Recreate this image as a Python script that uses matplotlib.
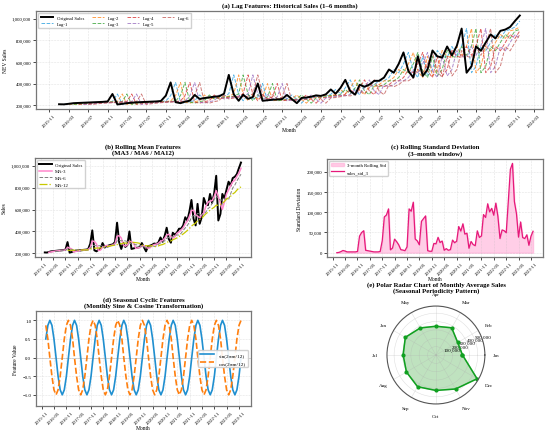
import numpy as np
import pandas as pd
import matplotlib
matplotlib.use("Agg")
import matplotlib.pyplot as plt
import matplotlib.dates as mdates
from matplotlib.ticker import FuncFormatter

plt.rcParams['font.family'] = ['Liberation Serif', 'DejaVu Serif']

# === Monthly NEV sales, 2016-01 .. 2023-12 ===
start_month = "2016-01-01"
sales = [
    208000, 207000, 212000, 218000, 220000, 222000, 224000, 226000, 228000, 230000, 234000, 303000,
    206000, 212000, 218000, 222000, 226000, 228000, 230000, 232000, 234000, 238000, 288000, 410000,
    227000, 218000, 232000, 241000, 294000, 257000, 265000, 272000, 278000, 282000, 305000, 480000,
    300000, 240000, 297000, 258000, 275000, 400000, 240000, 245000, 250000, 252000, 257000, 294000,
    255000, 218000, 266000, 270000, 278000, 290000, 285000, 300000, 345000, 305000, 360000, 434000,
    330000, 297000, 388000, 370000, 390000, 425000, 425000, 455000, 530000, 500000, 582000, 688000,
    515000, 455000, 652000, 470000, 530000, 706000, 652000, 640000, 743000, 661000, 750000, 909000,
    500000, 560000, 743000, 703000, 780000, 855000, 818000, 888000, 900000, 924000, 980000, 1030000,
]

lag_steps = [1, 2, 3, 4, 5, 6]
lag_colors = ["#1f9bde", "#ff7f0e", "#2ca02c", "#d62728", "#9467bd", "#c0504d"]
ma_windows = [3, 6, 12]
ma_labels = ["MA-3", "MA-6", "MA-12"]
month_names = ["Jan", "Feb", "Mar", "Apr", "May", "Jun",
               "Jul", "Aug", "Sep", "Oct", "Nov", "Dec"]
# sin / cos of 2*pi*m/12 for m = 1..12
month_sin = [0.5, 0.866, 1.0, 0.866, 0.5, 0.0, -0.5, -0.866, -1.0, -0.866, -0.5, 0.0]
month_cos = [0.866, 0.5, 0.0, -0.5, -0.866, -1.0, -0.866, -0.5, 0.0, 0.5, 0.866, 1.0]

df = pd.DataFrame({"sales": sales},
                  index=pd.date_range(start_month, periods=len(sales), freq="MS"))
df["month"] = df.index.month
for k in lag_steps:
    df[f"lag_{k}"] = df["sales"].shift(k)
for w in ma_windows:
    df[f"ma_{w}"] = df["sales"].rolling(w).mean()
df["sales_std_3"] = df["sales"].rolling(3, min_periods=1).std().fillna(0)
df["sin_m"] = [month_sin[m - 1] for m in df["month"]]
df["cos_m"] = [month_cos[m - 1] for m in df["month"]]
monthly_avg = df.groupby("month")["sales"].mean()

# === Style ===
TITLE = {"fontsize": 4.9, "fontweight": "bold"}
LABEL = 4.0
TICK = 3.5
LEG = 3.4
comma_fmt = FuncFormatter(lambda v, p: f"{v:,.0f}")


def style_axes(ax, ticks):
    ax.set_xticks(ticks)
    ax.xaxis.set_major_formatter(mdates.DateFormatter("%Y-%m"))
    ax.tick_params(axis="x", labelsize=TICK, rotation=45, length=2, width=0.5, pad=1)
    ax.tick_params(axis="y", labelsize=TICK, length=2, width=0.5, pad=1.5)
    ax.grid(True, linestyle="--", linewidth=0.4, alpha=0.35)
    for sp in ax.spines.values():
        sp.set_color("#777777")
        sp.set_linewidth(0.9)


ticks_4 = pd.date_range("2015-11-01", "2024-03-01", freq="4MS")
ticks_6 = pd.date_range("2015-11-01", "2023-11-01", freq="6MS")

fig = plt.figure(figsize=(5.5, 4.31), dpi=100)

# === (a) Lag features ===
ax_a = fig.add_axes([0.0655, 0.745, 0.9215, 0.227])
ax_a.plot(df.index, df["sales"], color="black", lw=1.4, label="Original Sales", zorder=5)
for k, c in zip(lag_steps, lag_colors):
    ax_a.plot(df.index, df[f"lag_{k}"], color=c, lw=0.7, ls="--", alpha=0.75, label=f"Lag-{k}")
ax_a.set_title("(a) Lag Features: Historical Sales (1–6 months)", fontdict=TITLE, pad=3)
ax_a.set_xlabel("Month", fontsize=LABEL, labelpad=0)
ax_a.set_ylabel("NEV Sales", fontsize=LABEL, labelpad=3)
ax_a.yaxis.set_major_formatter(comma_fmt)
style_axes(ax_a, ticks_4)
ax_a.legend(loc="upper left", ncol=4, fontsize=LEG, handlelength=2.6, columnspacing=1.6,
            framealpha=0.9, borderpad=0.5, labelspacing=0.35)

# === (b) Rolling means ===
ax_b = fig.add_axes([0.0636, 0.401, 0.3924, 0.230])
ax_b.plot(df.index, df["sales"], color="black", lw=1.4, label="Original Sales")
ax_b.plot(df.index, df["ma_3"], color="#ff88cc", lw=1.1, label=ma_labels[0])
ax_b.plot(df.index, df["ma_6"], color="#7f7f7f", lw=0.7, ls="--", label=ma_labels[1])
ax_b.plot(df.index, df["ma_12"], color="#c8c800", lw=0.9, ls="-.", label=ma_labels[2])
ax_b.set_title("(b) Rolling Mean Features\n(MA3 / MA6 / MA12)", fontdict=TITLE, pad=3)
ax_b.set_xlabel("Month", fontsize=LABEL, labelpad=0)
ax_b.set_ylabel("Sales", fontsize=LABEL, labelpad=3)
ax_b.yaxis.set_major_formatter(comma_fmt)
style_axes(ax_b, ticks_6)
ax_b.legend(loc="upper left", fontsize=LEG, handlelength=2.6, framealpha=0.9)

# === (c) Rolling std ===
ax_c = fig.add_axes([0.5945, 0.401, 0.3925, 0.228])
ax_c.fill_between(df.index, 0, df["sales_std_3"], color="#ff9fd0", alpha=0.5,
                  label="3-month Rolling Std")
ax_c.plot(df.index, df["sales_std_3"], color="#e6197a", lw=0.9, label="sales_std_3")
ax_c.set_title("(c) Rolling Standard Deviation\n(3–month window)", fontdict=TITLE, pad=3)
ax_c.set_xlabel("Month", fontsize=LABEL, labelpad=0)
ax_c.set_ylabel("Standard Deviation", fontsize=LABEL, labelpad=3)
ax_c.yaxis.set_major_formatter(comma_fmt)
style_axes(ax_c, ticks_6)
ax_c.legend(loc="upper left", fontsize=LEG, handlelength=2.6, framealpha=0.9)

# === (d) Seasonal sin / cos ===
ax_d = fig.add_axes([0.0655, 0.0557, 0.3905, 0.2203])
ax_d.plot(df.index, df["sin_m"], color="#1f8fd0", lw=1.2, label="sin(2πm/12)")
ax_d.plot(df.index, df["cos_m"], color="#ff7f0e", lw=1.2, ls="--", label="cos(2πm/12)")
ax_d.axhline(0, color="gray", lw=0.4, alpha=0.5)
ax_d.set_ylim(-1.3, 1.25)
ax_d.set_yticks([-1.0, -0.5, 0.0, 0.5, 1.0])
ax_d.set_title("(d) Seasonal Cyclic Features\n(Monthly Sine & Cosine Transformation)",
               fontdict=TITLE, pad=3)
ax_d.set_xlabel("Month", fontsize=LABEL, labelpad=0)
ax_d.set_ylabel("Feature Value", fontsize=LABEL, labelpad=3)
style_axes(ax_d, ticks_6)
ax_d.legend(loc="center right", fontsize=3.9, handlelength=2.6, framealpha=0.9)

# === (e) Polar radar of monthly averages ===
ax_e = fig.add_axes([0.7036, 0.0603, 0.178, 0.2274], projection="polar")
angles = np.arange(len(month_names)) * 2 * np.pi / len(month_names)
vals = monthly_avg.values
ang_closed = np.append(angles, angles[0])
val_closed = np.append(vals, vals[0])
ax_e.plot(ang_closed, val_closed, color="#10a020", lw=1.1, marker="o", markersize=2)
ax_e.fill(ang_closed, val_closed, color="#2ca02c", alpha=0.3)
ax_e.set_xticks(angles)
ax_e.set_xticklabels(month_names, fontsize=3.6)
ax_e.tick_params(axis="x", pad=-2)
ax_e.set_ylim(0, vals.max() * 1.03)
ax_e.set_yticks([100000, 200000, 300000, 400000, 500000])
ax_e.yaxis.set_major_formatter(comma_fmt)
ax_e.tick_params(axis="y", labelsize=3.6)
ax_e.grid(True, linewidth=0.4, alpha=0.4)
ax_e.spines["polar"].set_color("#555555")
ax_e.spines["polar"].set_linewidth(0.8)
fig.text(0.7927, 1 - 288.5 / 431,
         "(e) Polar Radar Chart of Monthly Average Sales\n(Seasonal Periodicity Pattern)",
         ha="center", va="center", linespacing=1.0, **TITLE)

fig.savefig("out.png", dpi=100, facecolor="white")
